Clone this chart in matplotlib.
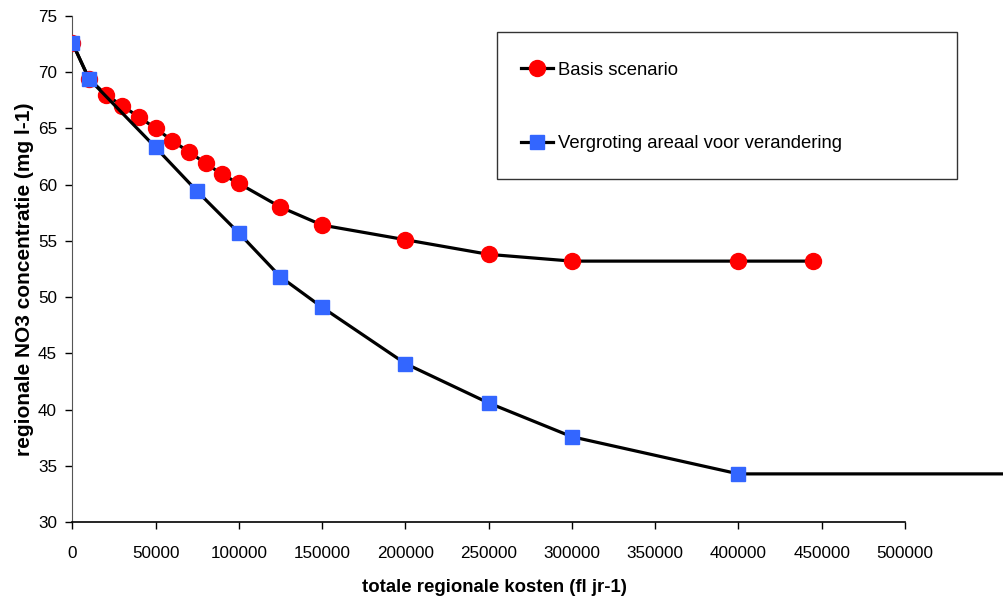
import matplotlib.pyplot as plt
from matplotlib.patches import Rectangle

plt.rcParams['font.family'] = ['Liberation Sans', 'DejaVu Sans']

# Basis scenario
basis_x = [0, 10000, 20000, 30000, 40000, 50000, 60000, 70000, 80000, 90000,
           100000, 125000, 150000, 200000, 250000, 300000, 400000, 445000]
basis_y = [72.6, 69.4, 68.0, 67.0, 66.0, 65.0, 63.9, 62.9, 61.9, 60.9,
           60.1, 58.0, 56.4, 55.1, 53.8, 53.2, 53.2, 53.2]

# Vergroting areaal voor verandering
vergr_x = [0, 10000, 50000, 75000, 100000, 125000, 150000, 200000, 250000,
           300000, 400000, 600000]
vergr_y = [72.6, 69.4, 63.3, 59.4, 55.7, 51.8, 49.1, 44.1, 40.6, 37.6, 34.3, 34.3]

x_ticks = [0, 50000, 100000, 150000, 200000, 250000, 300000, 350000, 400000,
           450000, 500000]
y_ticks = [30, 35, 40, 45, 50, 55, 60, 65, 70, 75]

fig = plt.figure(figsize=(10.04, 5.96), dpi=100)
ax = fig.add_axes([72.3 / 1004, 1 - 522.3 / 596, 1 - 72.3 / 1004, (522.3 - 15.7) / 596])

l1, = ax.plot(basis_x, basis_y, color='black', lw=2.3, marker='o', ms=11.5,
              mfc='#ff0000', mec='#ff0000', zorder=3)
l2, = ax.plot(vergr_x, vergr_y, color='black', lw=2.3, marker='s', ms=10,
              mfc='#3366ff', mec='#3366ff', zorder=4)

# x-as loopt tot 500000, plotgebied verder
xmax = (1004 - 72.3) / (905 - 72.3) * 500000
ax.set_xlim(0, xmax)
ax.set_ylim(30, 75)
ax.spines['top'].set_visible(False)
ax.spines['right'].set_visible(False)
ax.spines['bottom'].set_bounds(0, 500000)
ax.spines['bottom'].set_linewidth(1.2)
ax.spines['left'].set_color('#555555')
ax.set_xticks(x_ticks)
ax.set_xticklabels([str(t) for t in x_ticks])
ax.set_yticks(y_ticks)
ax.tick_params(axis='both', direction='out', length=5, width=1, labelsize=12.3,
               colors='black')
ax.tick_params(axis='x', pad=12)
ax.tick_params(axis='y', pad=6)

ax.set_xlabel('totale regionale kosten (fl jr-1)', fontsize=13.4, fontweight='bold')
ax.xaxis.set_label_coords((494.5 - 72.3) / 931.7, -(579 - 522.3) / 506.6)
ax.set_ylabel('regionale NO3 concentratie (mg l-1)', fontsize=15, fontweight='bold',
              labelpad=3)
ax.yaxis.label.set_y((522.3 - 279.5) / 506.6)

# legenda kader
fig.patches.append(Rectangle((496.7 / 1004, 1 - 178.7 / 596), (957.3 - 496.7) / 1004,
                             (178.7 - 32.3) / 596, transform=fig.transFigure,
                             fill=False, edgecolor='#333333', lw=1))
fig.legend([l1, l2], ['Basis scenario', 'Vergroting areaal voor verandering'],
           loc='upper left', bbox_to_anchor=(504 / 1004, 1 - 45 / 596),
           frameon=False, fontsize=13.3, handlelength=1.75, handletextpad=0.3,
           labelspacing=3.05, markerscale=1.0)

fig.savefig('out.png', dpi=100)
